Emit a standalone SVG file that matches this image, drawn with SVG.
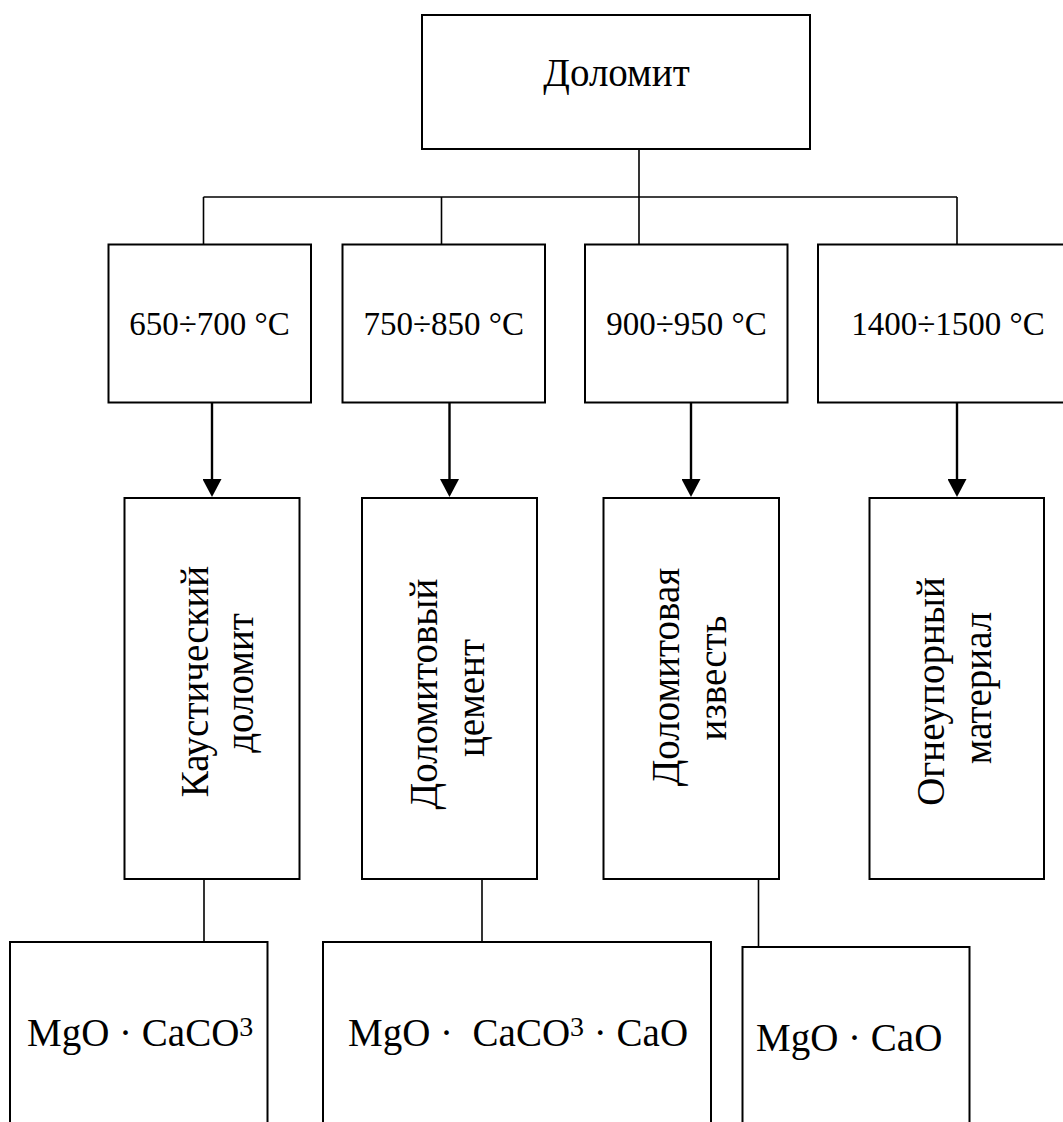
<svg xmlns="http://www.w3.org/2000/svg" width="1063" height="1122" viewBox="0 0 1063 1122">
<style>
.box{fill:#fff;stroke:#000;stroke-width:2}
.t{font-family:"Liberation Serif","Times New Roman",serif;fill:#000}
.big{font-size:39px}
.tmp{font-size:33px}
.sup{font-size:28px}
.ln{stroke:#000;stroke-width:1.6;fill:none}
.ar{stroke:#000;stroke-width:2.4;fill:none}
</style>
<defs>
<marker id="ah" viewBox="0 0 18 19" refX="3" refY="9.5" markerWidth="18" markerHeight="19" markerUnits="userSpaceOnUse" orient="auto">
<path d="M0,0 L18,9.5 L0,19 z" fill="#000"/>
</marker>
</defs>
<rect width="1063" height="1122" fill="#fff"/>
<g id="connectors">
<line class="ln" x1="639" y1="149" x2="639" y2="244"/>
<line class="ln" x1="203.5" y1="197" x2="957" y2="197"/>
<line class="ln" x1="203.5" y1="197" x2="203.5" y2="244"/>
<line class="ln" x1="441.5" y1="197" x2="441.5" y2="244"/>
<line class="ln" x1="957" y1="197" x2="957" y2="244"/>
<line class="ar" x1="212" y1="403" x2="212" y2="482" marker-end="url(#ah)"/>
<line class="ar" x1="449.5" y1="403" x2="449.5" y2="482" marker-end="url(#ah)"/>
<line class="ar" x1="691" y1="403" x2="691" y2="482" marker-end="url(#ah)"/>
<line class="ar" x1="957" y1="403" x2="957" y2="482" marker-end="url(#ah)"/>
<line class="ln" x1="204" y1="879" x2="204" y2="942"/>
<line class="ln" x1="482" y1="879" x2="482" y2="942"/>
<line class="ln" x1="758.5" y1="879" x2="758.5" y2="947"/>
</g>
<g id="dolomit">
<rect class="box" x="422" y="15" width="388" height="134"/>
<text class="t big" x="616.5" y="86" text-anchor="middle">Доломит</text>
</g>
<g id="t650">
<rect class="box" x="108.5" y="244.5" width="202.5" height="158"/>
<text class="t tmp" x="209.5" y="335" text-anchor="middle">650÷700 °C</text>
</g>
<g id="t750">
<rect class="box" x="342.5" y="244.5" width="202.5" height="158"/>
<text class="t tmp" x="443.8" y="335" text-anchor="middle">750÷850 °C</text>
</g>
<g id="t900">
<rect class="box" x="585" y="244.5" width="202.5" height="158"/>
<text class="t tmp" x="686.5" y="335" text-anchor="middle">900÷950 °C</text>
</g>
<g id="t1400">
<rect class="box" x="818" y="244.5" width="260" height="158"/>
<text class="t tmp" x="948" y="335" text-anchor="middle">1400÷1500 °C</text>
</g>
<g id="kaust">
<rect class="box" x="124.5" y="498" width="175" height="381"/>
<text class="t big" text-anchor="middle" transform="translate(208,681.5) rotate(-90)">Каустический</text>
<text class="t big" text-anchor="middle" transform="translate(253,683) rotate(-90)">доломит</text>
</g>
<g id="cement">
<rect class="box" x="362" y="498" width="175" height="381"/>
<text class="t big" text-anchor="middle" transform="translate(437,694) rotate(-90)">Доломитовый</text>
<text class="t big" text-anchor="middle" transform="translate(484,698) rotate(-90)">цемент</text>
</g>
<g id="izvest">
<rect class="box" x="603.5" y="498" width="175.5" height="381"/>
<text class="t big" text-anchor="middle" transform="translate(679,677) rotate(-90)">Доломитовая</text>
<text class="t big" text-anchor="middle" transform="translate(726,678) rotate(-90)">известь</text>
</g>
<g id="ogneup">
<rect class="box" x="869.5" y="498" width="174.5" height="381"/>
<text class="t big" text-anchor="middle" transform="translate(944,691.5) rotate(-90)">Огнеупорный</text>
<text class="t big" text-anchor="middle" transform="translate(991,688) rotate(-90)">материал</text>
</g>
<g id="f1">
<rect class="box" x="10" y="942" width="257.5" height="200"/>
<text class="t big" x="27" y="1046">MgO · CaCO<tspan class="sup" dy="-10">3</tspan></text>
</g>
<g id="f2">
<rect class="box" x="323" y="942" width="388" height="200"/>
<text class="t big" x="348" y="1046" xml:space="preserve">MgO ·  CaCO<tspan class="sup" dy="-10">3</tspan><tspan dy="10"> · CaO</tspan></text>
</g>
<g id="f3">
<rect class="box" x="742.5" y="947" width="227" height="200"/>
<text class="t big" x="756" y="1051">MgO · CaO</text>
</g>
</svg>
